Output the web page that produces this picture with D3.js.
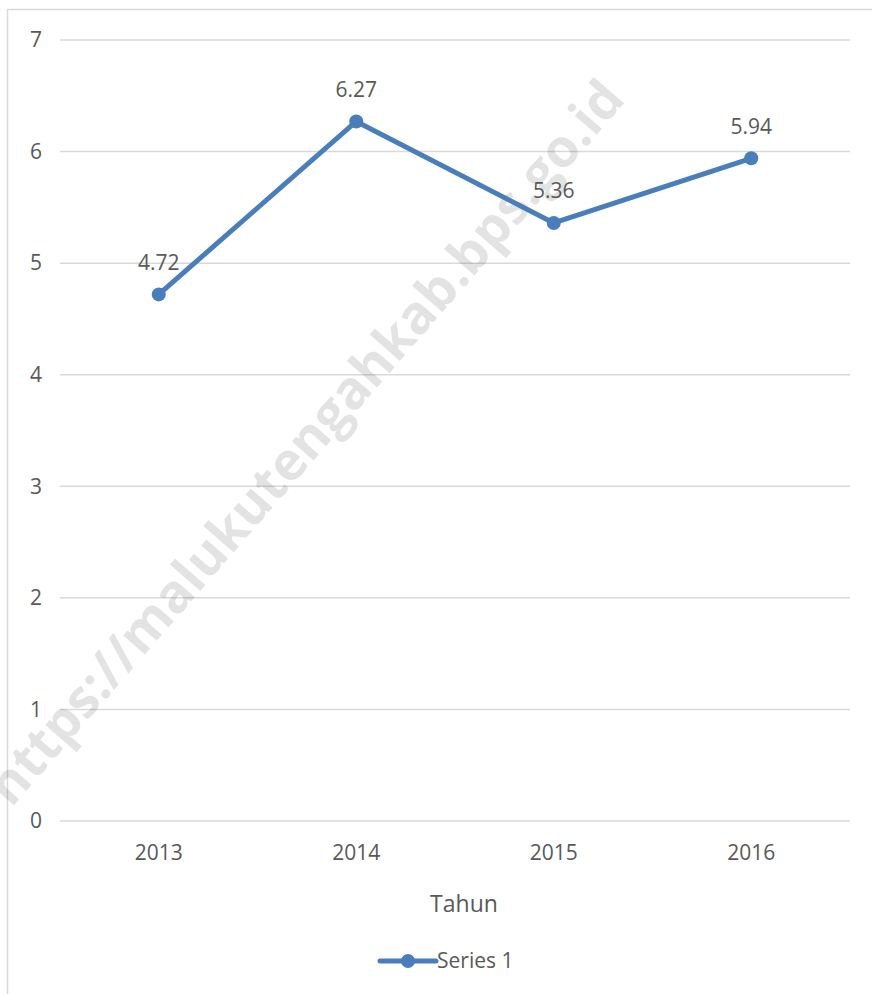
<!DOCTYPE html>
<html>
<head>
<meta charset="utf-8">
<script src="https://cdn.jsdelivr.net/npm/d3@7"></script>
<style>
  body { margin: 0; background: #fff; }
  text { font-family: "Open Sans", "Noto Sans", sans-serif; fill: #595959; }
</style>
</head>
<body>
<svg id="chart"></svg>
<script>
var years = ['2013', '2014', '2015', '2016'];
var values = [4.72, 6.27, 5.36, 5.94];
var yTicks = [0, 1, 2, 3, 4, 5, 6, 7];
var seriesName = 'Series 1';
var xTitle = 'Tahun';
var watermark = 'https://malukutengahkab.bps.go.id';

var width = 872;
var height = 994;
var margin = {top: 40, right: 22, bottom: 173, left: 60};
var lineColor = '#4a7ebb';

var svg = d3.select('#chart')
    .attr('width', width)
    .attr('height', height);

// chart frame
svg.append('rect')
    .attr('x', 7.5).attr('y', 9.5)
    .attr('width', 880).attr('height', 1000)
    .attr('fill', 'none')
    .attr('stroke', '#d9d9d9')
    .attr('stroke-width', 1.5);

var x = d3.scaleBand()
    .domain(years)
    .range([margin.left, width - margin.right]);

var y = d3.scaleLinear()
    .domain([0, 7])
    .range([height - margin.bottom, margin.top]);

// gridlines
svg.append('g')
    .selectAll('line')
    .data(yTicks)
    .enter()
    .append('line')
    .attr('x1', margin.left)
    .attr('x2', width - margin.right)
    .attr('y1', function(d) { return y(d); })
    .attr('y2', function(d) { return y(d); })
    .attr('stroke', '#d9d9d9')
    .attr('stroke-width', 1.5);

// y labels
svg.append('g')
    .selectAll('text')
    .data(yTicks)
    .enter()
    .append('text')
    .attr('x', 36)
    .attr('y', function(d) { return y(d); })
    .attr('dy', '0.35em')
    .attr('text-anchor', 'middle')
    .style('font-size', '21px')
    .text(function(d) { return d; });

// x labels
svg.append('g')
    .selectAll('text')
    .data(years)
    .enter()
    .append('text')
    .attr('x', function(d) { return x(d) + x.bandwidth() / 2; })
    .attr('y', y(0) + 32)
    .attr('dy', '0.35em')
    .attr('text-anchor', 'middle')
    .style('font-size', '21px')
    .text(function(d) { return d; });

svg.append('text')
    .attr('x', 464)
    .attr('y', 904)
    .attr('dy', '0.35em')
    .attr('text-anchor', 'middle')
    .style('font-size', '23px')
    .text(xTitle);

// watermark
svg.append('text')
    .attr('transform', 'translate(305,442) rotate(-49)')
    .attr('text-anchor', 'middle')
    .attr('dy', '0.35em')
    .style('font-size', '53px')
    .style('font-weight', 'bold')
    .style('fill', '#000')
    .style('fill-opacity', 0.11)
    .text(watermark);

var line = d3.line()
    .x(function(d, i) { return x(years[i]) + x.bandwidth() / 2; })
    .y(function(d) { return y(d); });

svg.append('path')
    .datum(values)
    .attr('d', line)
    .attr('fill', 'none')
    .attr('stroke', lineColor)
    .attr('stroke-width', 5)
    .attr('stroke-linejoin', 'round');

svg.append('g')
    .selectAll('circle')
    .data(values)
    .enter()
    .append('circle')
    .attr('cx', function(d, i) { return x(years[i]) + x.bandwidth() / 2; })
    .attr('cy', function(d) { return y(d); })
    .attr('r', 7)
    .attr('fill', lineColor);

svg.append('g')
    .selectAll('text')
    .data(values)
    .enter()
    .append('text')
    .attr('x', function(d, i) { return x(years[i]) + x.bandwidth() / 2; })
    .attr('y', function(d) { return y(d) - 32; })
    .attr('dy', '0.35em')
    .attr('text-anchor', 'middle')
    .style('font-size', '21px')
    .text(function(d) { return d.toFixed(2); });

// legend
var legend = svg.append('g').attr('transform', 'translate(380,961)');
legend.append('line')
    .attr('x1', 0).attr('x2', 56)
    .attr('stroke', lineColor)
    .attr('stroke-width', 5)
    .attr('stroke-linecap', 'round');
legend.append('circle')
    .attr('cx', 28).attr('r', 7)
    .attr('fill', lineColor);
legend.append('text')
    .attr('x', 57)
    .attr('dy', '0.35em')
    .style('font-size', '21px')
    .text(seriesName);
</script>
</body>
</html>
